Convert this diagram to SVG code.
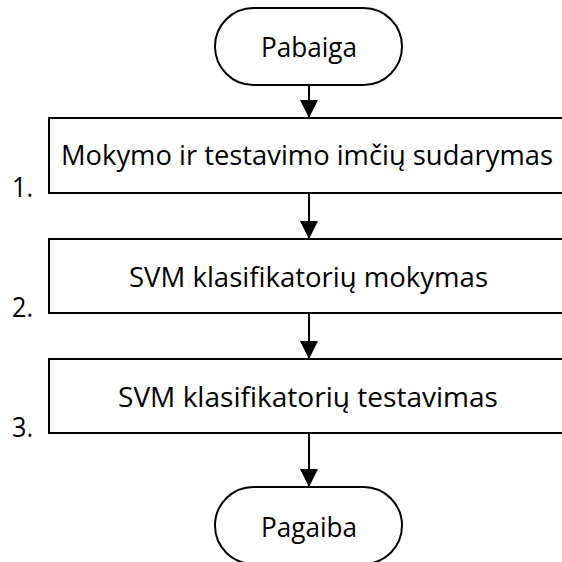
<svg xmlns="http://www.w3.org/2000/svg" width="562" height="562" viewBox="0 0 562 562">
<style>
.shape{fill:#fff;stroke:#000;stroke-width:2}
.t{font-family:"Open Sans","Noto Sans","Liberation Sans",sans-serif;font-size:28px;fill:#000}
.c{text-anchor:middle}
.conn line{stroke:#000;stroke-width:2}
</style>
<defs>
<marker id="ah" markerUnits="userSpaceOnUse" markerWidth="18" markerHeight="18" refX="18" refY="9" orient="auto">
<path d="M0,0 L18,9 L0,18 Z" fill="#000"/>
</marker>
</defs>
<rect width="562" height="562" fill="#fff"/>
<g id="start">
<rect class="shape" x="215" y="8" width="187" height="77" rx="38.5" ry="38.5"/>
<text class="t c" x="309" y="57" textLength="96" lengthAdjust="spacingAndGlyphs">Pabaiga</text>
</g>
<g id="step1">
<rect class="shape" x="49" y="118" width="523" height="75"/>
<text class="t c" x="307" y="165" textLength="492" lengthAdjust="spacingAndGlyphs">Mokymo ir testavimo imčių sudarymas</text>
<text class="t" x="12" y="197" textLength="21" lengthAdjust="spacingAndGlyphs">1.</text>
</g>
<g id="step2">
<rect class="shape" x="49" y="239" width="523" height="74"/>
<text class="t c" x="308.5" y="287" textLength="359" lengthAdjust="spacingAndGlyphs">SVM klasifikatorių mokymas</text>
<text class="t" x="12" y="317" textLength="21" lengthAdjust="spacingAndGlyphs">2.</text>
</g>
<g id="step3">
<rect class="shape" x="49" y="359" width="523" height="74"/>
<text class="t c" x="308" y="407" textLength="380" lengthAdjust="spacingAndGlyphs">SVM klasifikatorių testavimas</text>
<text class="t" x="12" y="437" textLength="21" lengthAdjust="spacingAndGlyphs">3.</text>
</g>
<g id="end">
<rect class="shape" x="215" y="487" width="187" height="77" rx="38.5" ry="38.5"/>
<text class="t c" x="309" y="537" textLength="96" lengthAdjust="spacingAndGlyphs">Pagaiba</text>
</g>
<g class="conn" id="connectors">
<line x1="309" y1="85" x2="309" y2="118" marker-end="url(#ah)"/>
<line x1="309" y1="193" x2="309" y2="239" marker-end="url(#ah)"/>
<line x1="309" y1="313" x2="309" y2="359" marker-end="url(#ah)"/>
<line x1="309" y1="433" x2="309" y2="487" marker-end="url(#ah)"/>
</g>
</svg>
